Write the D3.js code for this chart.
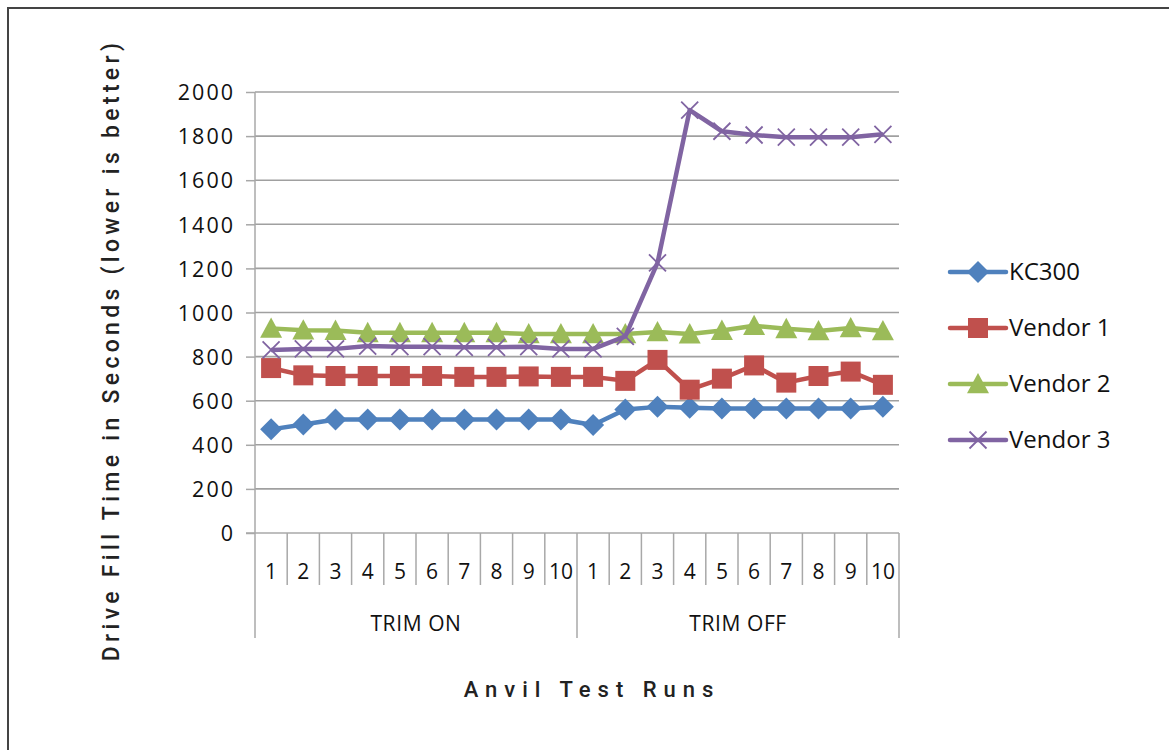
<!DOCTYPE html>
<html>
<head>
<meta charset="utf-8">
<script src="https://cdnjs.cloudflare.com/ajax/libs/d3/7.8.5/d3.min.js"></script>
<style>
  html, body { margin: 0; padding: 0; background: #fff; }
  svg { display: block; }
</style>
</head>
<body>
<div id="chart"></div>
<script>
// --- data ---
const groups = ['TRIM ON', 'TRIM OFF'];
const runs = ['1', '2', '3', '4', '5', '6', '7', '8', '9', '10'];
const seriesNames = ['KC300', 'Vendor 1', 'Vendor 2', 'Vendor 3'];
const kc300   = [470, 492, 515, 515, 515, 515, 515, 515, 515, 515,  490, 560, 572, 568, 565, 565, 565, 565, 565, 572];
const vendor1 = [748, 715, 712, 712, 712, 712, 708, 708, 710, 708,  708, 690, 785, 650, 700, 760, 682, 712, 732, 672];
const vendor2 = [928, 920, 918, 908, 908, 908, 908, 908, 903, 903,  903, 903, 912, 902, 918, 940, 926, 916, 930, 916];
const vendor3 = [830, 835, 835, 848, 845, 845, 842, 842, 845, 835,  835, 892, 1225, 1918, 1822, 1805, 1795, 1795, 1795, 1808];
const yTicks = [0, 200, 400, 600, 800, 1000, 1200, 1400, 1600, 1800, 2000];

const colors = ['#4f81bd', '#c0504d', '#9bbb59', '#8064a2'];
const symbols = ['diamond', 'square', 'triangle', 'cross'];

const W = 1169, H = 750;
const margin = { left: 255, right: 270, top: 92, bottom: 217 };
const labelFont = '"Open Sans", sans-serif';

const svg = d3.select('#chart').append('svg').attr('width', W).attr('height', H);

// outer frame (top and left edges only visible)
svg.append('path')
  .attr('d', `M8,${H + 5} L8,8 L${W + 5},8`)
  .attr('fill', 'none').attr('stroke', '#444').attr('stroke-width', 2);

const cats = [];
groups.forEach(g => runs.forEach(r => cats.push(g + '|' + r)));

const x = d3.scaleBand().domain(cats).range([margin.left, W - margin.right]);
const y = d3.scaleLinear().domain([0, 2000]).range([H - margin.bottom, margin.top]);

// gridlines
svg.append('g').selectAll('line').data(yTicks.filter(d => d > 0)).join('line')
  .attr('x1', margin.left).attr('x2', W - margin.right)
  .attr('y1', d => y(d)).attr('y2', d => y(d))
  .attr('stroke', '#a0a0a0').attr('stroke-width', 1.6);

// y axis
const yAxis = svg.append('g').attr('transform', `translate(${margin.left},0)`)
  .call(d3.axisLeft(y).tickValues(yTicks).tickFormat(d3.format('d')).tickSize(9).tickPadding(11));
yAxis.select('.domain').remove();
yAxis.selectAll('.tick line').attr('stroke', '#a8a8a8').attr('stroke-width', 1.5);
yAxis.selectAll('.tick text').attr('fill', '#111').attr('dy', '0.36em')
  .style('font-family', labelFont).style('font-size', '21.5px').style('letter-spacing', '2px');

const axisColor = '#a8a8a8';
const y0 = y(0);
// left axis line, continuing down past the category labels
svg.append('line').attr('x1', margin.left).attr('x2', margin.left)
  .attr('y1', margin.top).attr('y2', 638)
  .attr('stroke', axisColor).attr('stroke-width', 1.5);
// baseline
svg.append('line').attr('x1', margin.left - 9).attr('x2', W - margin.right)
  .attr('y1', y0).attr('y2', y0)
  .attr('stroke', axisColor).attr('stroke-width', 1.5);

// category separators
svg.append('g').selectAll('line').data(cats.slice(1).concat(['end'])).join('line')
  .attr('x1', d => d === 'end' ? W - margin.right : x(d))
  .attr('x2', d => d === 'end' ? W - margin.right : x(d))
  .attr('y1', y0)
  .attr('y2', d => (d === 'end' || d === groups[1] + '|1') ? 638 : 585)
  .attr('stroke', axisColor).attr('stroke-width', 1.5);

// run labels
svg.append('g').selectAll('text').data(cats).join('text')
  .attr('x', d => x(d) + x.bandwidth() / 2)
  .attr('y', 579)
  .attr('text-anchor', 'middle')
  .attr('fill', '#111')
  .style('font-family', labelFont).style('font-size', '21px')
  .text(d => d.split('|')[1]);

// group labels
svg.append('g').selectAll('text').data(groups).join('text')
  .attr('x', g => (x(g + '|1') + x(g + '|10') + x.bandwidth()) / 2)
  .attr('y', 631)
  .attr('text-anchor', 'middle')
  .attr('fill', '#111')
  .style('font-family', labelFont).style('font-size', '21px').style('letter-spacing', '0.6px')
  .text(g => g);

// series
const allSeries = [kc300, vendor1, vendor2, vendor3];
const line = d3.line().x((d, i) => x(cats[i]) + x.bandwidth() / 2).y(d => y(d));

function drawSymbol(sel, k, cx, cy) {
  const c = colors[k];
  if (symbols[k] === 'cross') {
    const s = 8.5;
    sel.append('path')
      .attr('d', `M${cx - s},${cy - s}L${cx + s},${cy + s}M${cx - s},${cy + s}L${cx + s},${cy - s}`)
      .attr('stroke', c).attr('stroke-width', 1.8).attr('fill', 'none');
  } else if (symbols[k] === 'diamond') {
    const s = 11;
    sel.append('path')
      .attr('d', `M${cx},${cy - s}L${cx + s},${cy}L${cx},${cy + s}L${cx - s},${cy}Z`)
      .attr('fill', c);
  } else if (symbols[k] === 'square') {
    const s = 10;
    sel.append('rect').attr('x', cx - s).attr('y', cy - s)
      .attr('width', 2 * s).attr('height', 2 * s).attr('fill', c);
  } else {
    const s = 11;
    sel.append('path')
      .attr('d', `M${cx},${cy - s}L${cx + s},${cy + s * 0.85}L${cx - s},${cy + s * 0.85}Z`)
      .attr('fill', c);
  }
}

allSeries.forEach((vals, k) => {
  const g = svg.append('g');
  g.append('path').attr('d', line(vals))
    .attr('fill', 'none').attr('stroke', colors[k])
    .attr('stroke-width', 4.5).attr('stroke-linejoin', 'round');
  vals.forEach((v, i) => drawSymbol(g, k, x(cats[i]) + x.bandwidth() / 2, y(v)));
});

// legend
const legend = svg.append('g');
seriesNames.forEach((name, k) => {
  const ly = 272 + k * 56;
  legend.append('line').attr('x1', 950).attr('x2', 1006).attr('y1', ly).attr('y2', ly)
    .attr('stroke', colors[k]).attr('stroke-width', 4.5).attr('stroke-linecap', 'round');
  drawSymbol(legend, k, 978, ly);
  legend.append('text').attr('x', 1009).attr('y', ly + 8)
    .attr('fill', '#111')
    .style('font-family', labelFont).style('font-size', '24px')
    .text(name);
});

// axis titles
svg.append('text')
  .attr('transform', `translate(119,350) rotate(-90)`)
  .attr('text-anchor', 'middle')
  .attr('fill', '#222')
  .style('font-family', 'Roboto, sans-serif').style('font-weight', 500)
  .style('font-size', '23px').style('letter-spacing', '4.3px')
  .text('Drive Fill Time in Seconds (lower is better)');

svg.append('text')
  .attr('x', 592).attr('y', 697)
  .attr('text-anchor', 'middle')
  .attr('fill', '#222')
  .style('font-family', 'Roboto, sans-serif').style('font-weight', 500)
  .style('font-size', '22px').style('letter-spacing', '7px')
  .text('Anvil Test Runs');
</script>
</body>
</html>
